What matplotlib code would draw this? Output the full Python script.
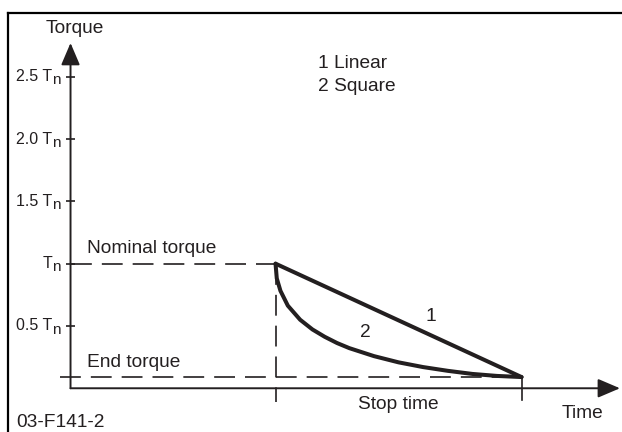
import matplotlib
matplotlib.use('Agg')
import matplotlib.pyplot as plt
from matplotlib.lines import Line2D

plt.rcParams['font.family'] = ['Liberation Sans', 'DejaVu Sans']

# torque in units of Tn, time in arbitrary units
tick_vals = [0.5, 1.0, 1.5, 2.0, 2.5]
tick_labels = ['0.5 T', 'T', '1.5 T', '2.0 T', '2.5 T']
t_start = 1.0
t_end = 2.2
T_nom = 1.0
T_end = 0.09

# curve 1 - linear ramp
lin_t = [t_start, t_end]
lin_T = [T_nom, T_end]

# curve 2 - square ramp
sq_t = [1.0, 1.006, 1.024, 1.06, 1.12, 1.18, 1.24, 1.30, 1.36,
        1.48, 1.60, 1.72, 1.84, 1.96, 2.08, 2.2]
sq_T = [1.0, 0.882, 0.782, 0.663, 0.550, 0.472, 0.413, 0.363, 0.322,
        0.258, 0.208, 0.170, 0.140, 0.115, 0.099, 0.09]

col = '#231f20'

fig = plt.figure(figsize=(6.22, 4.32), dpi=100)
ax = fig.add_axes([0, 0, 1, 1])
ax.set_xlim(-0.344, 2.690)
ax.set_ylim(-0.351, 3.116)
ax.axis('off')

# frame lines (top and left only)
fig.add_artist(Line2D([0.0133, 1.0], [0.971, 0.971], color='black', lw=1.6))
fig.add_artist(Line2D([0.0133, 0.0133], [0.0, 0.971], color='black', lw=1.6))

# axes with arrows
arrow = dict(arrowstyle='-|>,head_length=0.68,head_width=0.29', mutation_scale=20,
             color=col, lw=1.4, shrinkA=0, shrinkB=0)
ax.annotate('', xy=(0, 2.771), xytext=(0, 0), arrowprops=arrow)
ax.annotate('', xy=(2.68, 0), xytext=(0, 0), arrowprops=arrow)

# y ticks, label "x.x T" plus a lowered "n"
ax.hlines(tick_vals, -0.022, 0.022, color=col, lw=1.2)
for v, lab in zip(tick_vals, tick_labels):
    ax.text(-0.090, v - 0.036, lab, ha='right', va='baseline', fontsize=11.5, color=col)
    ax.text(-0.049, v - 0.062, 'n', ha='right', va='baseline', fontsize=11, color=col)

# dashed guides
dash = dict(color=col, lw=1.2, dashes=(12.5, 6))
ax.plot([0, t_start], [T_nom, T_nom], **dash)
ax.plot([-0.051, t_end], [T_end, T_end], **dash)
ax.plot([t_start, t_start], [T_nom, -0.11], **dash)
ax.plot([t_end, t_end], [T_end, -0.094], color=col, lw=1.2)

ax.plot(lin_t, lin_T, color=col, lw=2.9, solid_capstyle='round')
ax.plot(sq_t, sq_T, color=col, lw=2.9, solid_capstyle='round', solid_joinstyle='round')

fs = 13.8
ax.text(0.02, 2.852, 'Torque', ha='center', va='baseline', fontsize=fs, color=col)
ax.text(1.207, 2.573, '1 Linear', ha='left', va='baseline', fontsize=fs, color=col)
ax.text(1.207, 2.386, '2 Square', ha='left', va='baseline', fontsize=fs, color=col)
ax.text(0.082, 1.088, 'Nominal torque', ha='left', va='baseline', fontsize=fs, color=col)
ax.text(0.082, 0.173, 'End torque', ha='left', va='baseline', fontsize=fs, color=col)
ax.text((t_start + t_end) / 2, -0.170, 'Stop time', ha='center', va='baseline', fontsize=fs, color=col)
ax.text(2.498, -0.241, 'Time', ha='center', va='baseline', fontsize=fs, color=col)
ax.text(1.759, 0.576, '1', ha='center', va='center', fontsize=fs, color=col)
ax.text(1.437, 0.444, '2', ha='center', va='center', fontsize=fs, color=col)
fig.text(16.7 / 622, 1 - 427.3 / 432, '03-F141-2', ha='left', va='baseline', fontsize=fs, color=col)

fig.savefig('out.png', dpi=100)
